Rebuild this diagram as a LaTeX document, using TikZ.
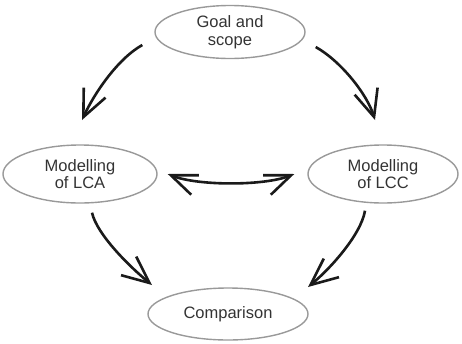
\documentclass[tikz,border=0pt]{standalone}
\usepackage{fontspec}
\setmainfont{Liberation Sans}
\usetikzlibrary{shapes.geometric,arrows.meta}
\definecolor{txt}{HTML}{333333}
\definecolor{edge}{HTML}{999999}
\definecolor{arrc}{HTML}{1A1A1A}
\tikzset{
  stage/.style={ellipse,draw=edge,line width=1.4pt,inner sep=0pt,
    text=txt,align=center,font=\fontsize{16.5}{17.5}\selectfont},
  arr/.style={draw=arrc,line width=2.6pt,
    -{Straight Barb[length=27pt,width=24pt,line width=2.6pt]}},
  darr/.style={draw=arrc,line width=2.6pt,
    {Straight Barb[length=26pt,width=21pt,line width=2.6pt]}-{Straight Barb[length=26pt,width=21pt,line width=2.6pt]}}
}
\begin{document}
\begin{tikzpicture}[x=1pt,y=-1pt]
\useasboundingbox (0,0) rectangle (462,343);
\node[stage,minimum width=150pt,minimum height=53pt] (goal) at (230,32) {Goal and\\scope};
\node[stage,minimum width=154pt,minimum height=58pt] (lca) at (80,174) {Modelling\\of LCA};
\node[stage,minimum width=150pt,minimum height=58pt] (lcc) at (383,174) {Modelling\\of LCC};
\node[stage,minimum width=160pt,minimum height=52pt] (comp) at (228,314) {Comparison};
% goal -> lca
\draw[arr] ([shift={(-12,13)}]goal.west) .. controls +(-25,14) and +(12,-26) .. ([shift={(2,-54)}]lca.center);
% goal -> lcc
\draw[arr] ([shift={(10,15)}]goal.east) .. controls +(25,14) and +(-8,-26) .. ([shift={(-8,-54)}]lcc.center);
% lca -> comp
\draw[arr] ([shift={(12,9)}]lca.south) .. controls +(5,22) and +(-22,-18) .. ([shift={(-76,-29)}]comp.center);
% lcc -> comp
\draw[arr] ([shift={(-18,7)}]lcc.south) .. controls +(-4,24) and +(22,-18) .. ([shift={(80,-27)}]comp.center);
% lca <-> lcc
\draw[darr] ([xshift=10pt]lca.east) .. controls +(30,12) and +(-30,12) .. ([xshift=-13pt]lcc.west);
\end{tikzpicture}
\end{document}
